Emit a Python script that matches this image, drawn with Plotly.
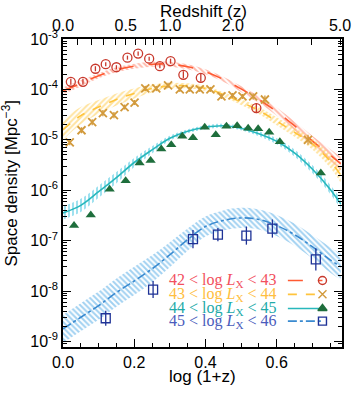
import math
import plotly.graph_objects as go

# ---------------- data (log10 space density) ----------------
x_model = [0.0, 0.05, 0.1, 0.15, 0.2, 0.25, 0.3, 0.35, 0.4, 0.45, 0.5, 0.55, 0.6, 0.65, 0.7, 0.75, 0.78]

red_model = [-4.03, -3.88, -3.73, -3.61, -3.54, -3.50, -3.50, -3.55, -3.65, -3.80, -3.99, -4.20, -4.44, -4.72, -5.02, -5.30, -5.47]
red_band = [0.07, 0.06, 0.05, 0.05, 0.05, 0.05, 0.05, 0.05, 0.05, 0.05, 0.06, 0.07, 0.08, 0.09, 0.10, 0.12, 0.13]

orange_model = [-4.80, -4.52, -4.35, -4.20, -4.08, -3.98, -3.93, -3.93, -3.98, -4.10, -4.25, -4.42, -4.63, -4.85, -5.08, -5.42, -5.70]
orange_band = [0.20, 0.17, 0.14, 0.12, 0.10, 0.08, 0.06, 0.05, 0.05, 0.05, 0.06, 0.07, 0.08, 0.09, 0.11, 0.13, 0.15]

cyan_model = [-6.45, -6.30, -6.03, -5.75, -5.45, -5.20, -4.97, -4.83, -4.75, -4.72, -4.77, -4.88, -5.03, -5.26, -5.58, -5.98, -6.27]
cyan_band = [0.13, 0.13, 0.12, 0.11, 0.09, 0.07, 0.05, 0.04, 0.04, 0.04, 0.04, 0.05, 0.06, 0.07, 0.08, 0.09, 0.10]

blue_model = [-8.75, -8.52, -8.29, -8.03, -7.80, -7.56, -7.28, -6.98, -6.72, -6.60, -6.55, -6.58, -6.70, -6.88, -7.12, -7.38, -7.52]
blue_band = [0.28, 0.28, 0.28, 0.28, 0.28, 0.27, 0.25, 0.22, 0.20, 0.20, 0.20, 0.20, 0.21, 0.22, 0.23, 0.25, 0.26]

red_x = [0.022, 0.056, 0.091, 0.120, 0.150, 0.181, 0.211, 0.242, 0.272, 0.302, 0.338, 0.387, 0.543]
red_y = [-3.85, -3.85, -3.59, -3.50, -3.56, -3.37, -3.29, -3.39, -3.54, -3.44, -3.71, -3.77, -4.37]
red_e = [0.06, 0.06, 0.05, 0.04, 0.04, 0.04, 0.04, 0.04, 0.04, 0.05, 0.07, 0.08, 0.10]

orange_x = [0.019, 0.052, 0.082, 0.112, 0.143, 0.173, 0.201, 0.231, 0.262, 0.295, 0.328, 0.356, 0.384, 0.414, 0.445, 0.476, 0.504, 0.534, 0.567, 0.688]
orange_y = [-5.05, -4.81, -4.65, -4.47, -4.51, -4.35, -4.26, -3.98, -3.98, -3.92, -4.00, -4.00, -4.00, -4.00, -4.14, -4.12, -4.14, -4.14, -4.20, -5.00]
orange_e = [0.06, 0.06, 0.06, 0.06, 0.06, 0.05, 0.05, 0.05, 0.05, 0.05, 0.05, 0.05, 0.05, 0.05, 0.05, 0.05, 0.05, 0.06, 0.08, 0.10]

green_x = [0.031, 0.078, 0.131, 0.176, 0.215, 0.246, 0.276, 0.304, 0.335, 0.365, 0.398, 0.429, 0.459, 0.489, 0.520, 0.548, 0.579, 0.609, 0.724]
green_y = [-6.70, -6.49, -5.98, -5.81, -5.46, -5.41, -5.18, -5.10, -4.93, -4.96, -4.75, -4.90, -4.73, -4.72, -4.77, -4.78, -4.85, -5.04, -5.66]

blue_x = [0.120, 0.253, 0.365, 0.435, 0.515, 0.588, 0.710]
blue_y = [-8.54, -7.97, -6.97, -6.88, -6.90, -6.76, -7.37]
blue_e = [0.15, 0.17, 0.18, 0.13, 0.18, 0.18, 0.22]

legend_labels = [
    "42 &lt; log <i>L</i><sub>X</sub> &lt; 43",
    "43 &lt; log <i>L</i><sub>X</sub> &lt; 44",
    "44 &lt; log <i>L</i><sub>X</sub> &lt; 45",
    "45 &lt; log <i>L</i><sub>X</sub> &lt; 46",
]

y_tick_exps = [-9, -8, -7, -6, -5, -4, -3]
x_tick_vals = [0.0, 0.2, 0.4, 0.6]
x_tick_text = ["0.0", "0.2", "0.4", "0.6"]
z_ticks = [0.0, 0.1, 0.2, 0.3, 0.4, 0.5, 0.6, 0.7, 0.8, 0.9, 1.0, 2.0, 3.0, 4.0, 5.0]
z_labels = ["0.0", "", "", "", "", "0.5", "", "", "", "", "1.0", "2.0", "", "", "5.0"]

x_title = "log (1+z)"
top_title = "Redshift (z)"
y_title = "Space density [Mpc<sup>\u22123</sup>]"

# ---------------- styles ----------------
def lin(v):
    return [10 ** a for a in v]

LINE_RED, HATCH_RED, MK_RED, TXT_RED = "#ff5a32", "#ff7458", "#c8382c", "#f2505e"
LINE_OR, HATCH_OR, MK_OR, TXT_OR = "#ffc43c", "#ffc840", "#d29a3c", "#ffbe40"
LINE_CY, HATCH_CY, MK_CY, TXT_CY = "#28b8bc", "#40c4e0", "#1e6e3c", "#22aaa8"
LINE_BL, HATCH_BL, MK_BL, TXT_BL = "#3a8ad0", "#44a4e4", "#1e3296", "#4a5cbc"

fig = go.Figure()

bands = [
    (red_model, red_band, LINE_RED, HATCH_RED, "longdash", "\\"),
    (orange_model, orange_band, LINE_OR, HATCH_OR, "dash", "/"),
    (cyan_model, cyan_band, LINE_CY, HATCH_CY, "solid", "|"),
    (blue_model, blue_band, LINE_BL, HATCH_BL, "dashdot", "\\"),
]

for model, band, lc, hc, dash, shp in bands:
    lo = [m - b for m, b in zip(model, band)]
    hi = [m + b for m, b in zip(model, band)]
    fig.add_trace(go.Scatter(x=x_model, y=lin(lo), mode="lines", line=dict(width=0, shape="spline"),
                             hoverinfo="skip", showlegend=False))
    fig.add_trace(go.Scatter(x=x_model, y=lin(hi), mode="lines", line=dict(width=0, shape="spline"),
                             fill="tonexty", fillcolor="rgba(0,0,0,0)",
                             fillpattern=dict(shape=shp, fgcolor=hc, bgcolor="rgba(0,0,0,0)",
                                              size=4, solidity=0.5, fillmode="overlay"),
                             hoverinfo="skip", showlegend=False))
    fig.add_trace(go.Scatter(x=x_model, y=lin(model), mode="lines",
                             line=dict(color=lc, width=1.6, dash=dash, shape="spline"),
                             showlegend=False))

def errs(y, e):
    up = [10 ** (a + b) - 10 ** a for a, b in zip(y, e)]
    dn = [10 ** a - 10 ** (a - b) for a, b in zip(y, e)]
    return up, dn

up, dn = errs(red_y, red_e)
fig.add_trace(go.Scatter(x=red_x, y=lin(red_y), mode="markers",
                         marker=dict(symbol="circle-open", size=9, color=MK_RED, line=dict(width=1.3)),
                         error_y=dict(type="data", array=up, arrayminus=dn, color=MK_RED, thickness=1.3, width=0),
                         showlegend=False))
up, dn = errs(orange_y, orange_e)
fig.add_trace(go.Scatter(x=orange_x, y=lin(orange_y), mode="markers",
                         marker=dict(symbol="x-thin", size=8, color=MK_OR, line=dict(width=1.8, color=MK_OR)),
                         error_y=dict(type="data", array=up, arrayminus=dn, color=MK_OR, thickness=1.3, width=0),
                         showlegend=False))
fig.add_trace(go.Scatter(x=green_x, y=lin(green_y), mode="markers",
                         marker=dict(symbol="triangle-up", size=9, color=MK_CY),
                         showlegend=False))
up, dn = errs(blue_y, blue_e)
fig.add_trace(go.Scatter(x=blue_x, y=lin(blue_y), mode="markers",
                         marker=dict(symbol="square-open", size=9, color=MK_BL, line=dict(width=1.3)),
                         error_y=dict(type="data", array=up, arrayminus=dn, color=MK_BL, thickness=1.3, width=0),
                         showlegend=False))

# invisible trace to bring up the top (redshift) axis
fig.add_trace(go.Scatter(x=[0.0], y=[1e-3], xaxis="x2", mode="markers",
                         marker=dict(opacity=0), hoverinfo="skip", showlegend=False))

# ---------------- legend (text left, sample right) ----------------
leg_rows = [0.216, 0.171, 0.125, 0.084]
leg_styles = [
    (LINE_RED, "longdash", "circle-open", MK_RED, TXT_RED),
    (LINE_OR, "dash", "x-thin", MK_OR, TXT_OR),
    (LINE_CY, "solid", "triangle-up", MK_CY, TXT_CY),
    (LINE_BL, "dashdot", "square-open", MK_BL, TXT_BL),
]
for row, lab, (lc, dash, sym, mc, tc) in zip(leg_rows, legend_labels, leg_styles):
    fig.add_trace(go.Scatter(x=[0.806, 0.930], y=[row, row], xaxis="x3", yaxis="y3", mode="lines",
                             line=dict(color=lc, width=1.6, dash=dash), hoverinfo="skip", showlegend=False))
    fig.add_trace(go.Scatter(x=[0.930], y=[row], xaxis="x3", yaxis="y3", mode="markers",
                             marker=dict(symbol=sym, size=8, color=mc, line=dict(width=1.4, color=mc)),
                             hoverinfo="skip", showlegend=False))
    fig.add_annotation(text=lab, xref="paper", yref="paper", x=0.372, y=row, xanchor="left",
                       yanchor="middle", showarrow=False,
                       font=dict(family="Liberation Serif", size=16, color=tc))

minor_y = [k * 10 ** e for e in range(-10, -2) for k in range(2, 10)]

AX_FONT = dict(family="Liberation Sans, Arial, sans-serif", size=16, color="black")
TITLE_FONT = dict(family="Liberation Sans, Arial, sans-serif", size=17, color="black")

# axis titles placed as annotations
fig.add_annotation(text=x_title, xref="paper", yref="paper", x=0.5, y=-0.096, xanchor="center",
                   yanchor="middle", showarrow=False, font=TITLE_FONT)
fig.add_annotation(text=top_title, xref="paper", yref="paper", x=0.505, y=1.088, xanchor="center",
                   yanchor="middle", showarrow=False, font=TITLE_FONT)
fig.add_annotation(text=y_title, xref="paper", yref="paper", x=-0.191, y=0.533, xanchor="center",
                   yanchor="middle", showarrow=False, textangle=-90, font=TITLE_FONT)

fig.update_layout(
    width=359, height=396,
    margin=dict(l=63, r=17, t=39, b=49, autoexpand=False),
    paper_bgcolor="white", plot_bgcolor="white",
    font=AX_FONT,
    showlegend=False,
    xaxis=dict(range=[0, 0.7835], automargin=False, showgrid=False, zeroline=False, showline=True,
               linecolor="black", linewidth=1.5, ticks="inside", ticklen=8, tickwidth=1.2, tickcolor="black",
               tickvals=x_tick_vals, ticktext=x_tick_text, tickfont=AX_FONT,
               minor=dict(dtick=0.05, tick0=0, ticks="inside", ticklen=4, tickwidth=1.2, tickcolor="black")),
    xaxis2=dict(range=[0, 0.7835], automargin=False, overlaying="x", side="top", showgrid=False,
                zeroline=False, showline=True, linecolor="black", linewidth=1.5,
                ticks="inside", ticklen=6, tickwidth=1.2, tickcolor="black",
                tickvals=[math.log10(1 + z) for z in z_ticks], ticktext=z_labels, tickfont=AX_FONT),
    yaxis=dict(type="log", range=[-9.11, -3.0], automargin=False, showgrid=False, zeroline=False,
               showline=True, linecolor="black", linewidth=1.5, mirror="ticks",
               ticks="inside", ticklen=8, tickwidth=1.2, tickcolor="black",
               tickvals=[10 ** e for e in y_tick_exps],
               ticktext=["10<sup>%d</sup>" % e for e in y_tick_exps], tickfont=AX_FONT,
               minor=dict(tickvals=minor_y, ticks="inside", ticklen=4, tickwidth=1, tickcolor="black")),
    xaxis3=dict(range=[0, 1], overlaying="x", visible=False, fixedrange=True),
    yaxis3=dict(range=[0, 1], overlaying="y", visible=False, fixedrange=True),
)

fig.write_html("out.html", config={"displayModeBar": False},
               post_script="document.body.style.margin='0';")
